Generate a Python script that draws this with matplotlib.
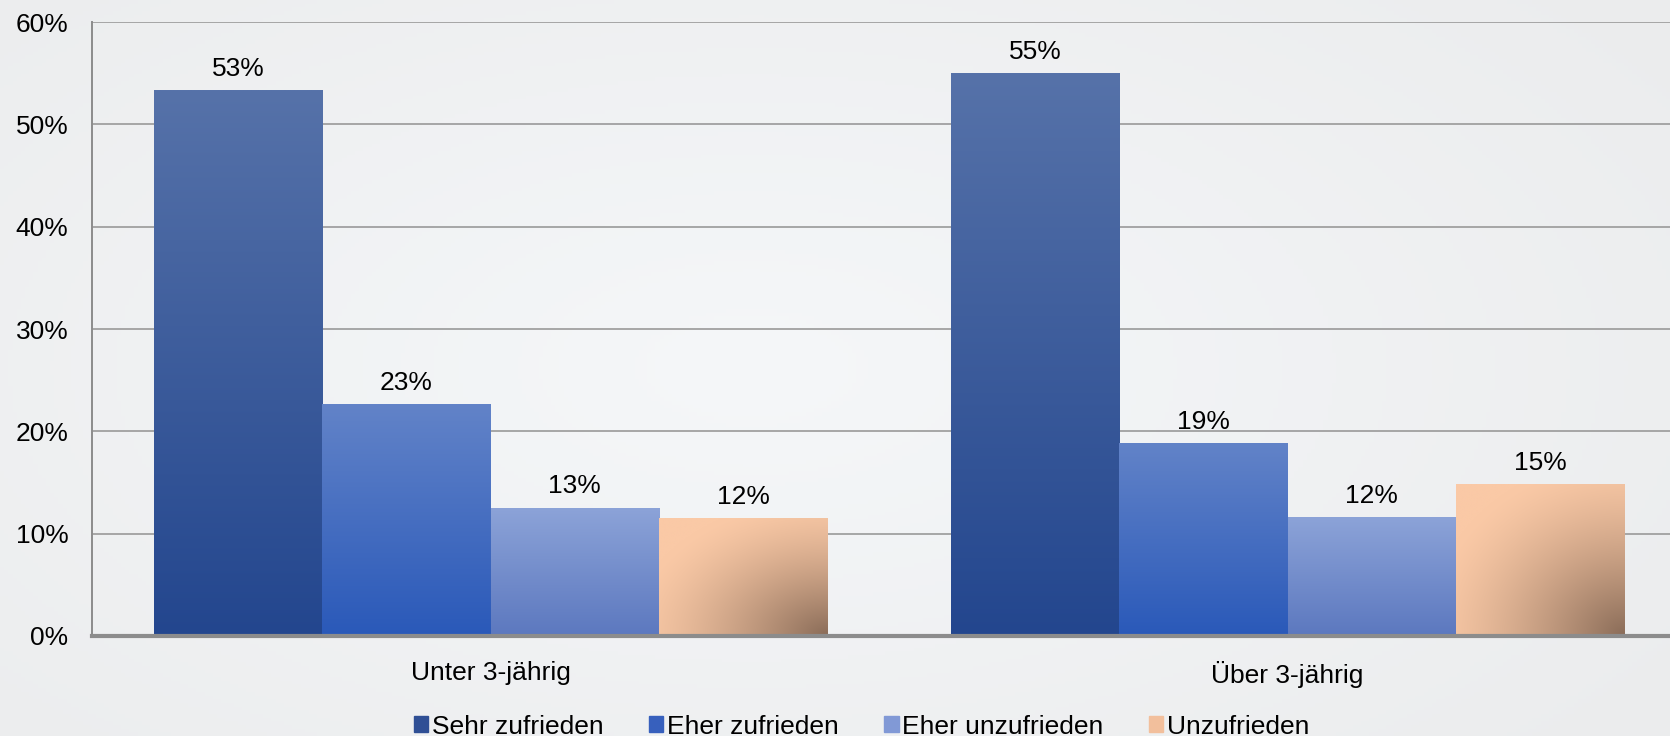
import numpy as np
import matplotlib.pyplot as plt
from matplotlib.colors import to_rgb

categories = ['Unter 3-jährig', 'Über 3-jährig']
series = ['Sehr zufrieden', 'Eher zufrieden', 'Eher unzufrieden', 'Unzufrieden']
sehr_zufrieden = [53.3, 55.0]
eher_zufrieden = [22.6, 18.8]
eher_unzufrieden = [12.5, 11.6]
unzufrieden = [11.5, 14.8]
value_labels = [['53%', '55%'], ['23%', '19%'], ['13%', '12%'], ['12%', '15%']]
yticks = [0, 10, 20, 30, 40, 50, 60]

# gradient colours (top, bottom) for the blue ones, (light, dark) for the peach one
grad = {
    'Sehr zufrieden': ('#5672a9', '#23468e'),
    'Eher zufrieden': ('#6283c8', '#2a59b9'),
    'Eher unzufrieden': ('#8ca3d8', '#5c78bf'),
    'Unzufrieden': ('#fac9a6', '#8a6c58'),
}
legend_col = {
    'Sehr zufrieden': '#2f4f95',
    'Eher zufrieden': '#3760bd',
    'Eher unzufrieden': '#8199d6',
    'Unzufrieden': '#f2bf9c',
}

plt.rcParams['font.family'] = ['Liberation Sans', 'DejaVu Sans']
FS = 19


def bar_image(name, n=200):
    c1 = np.array(to_rgb(grad[name][0]))
    c2 = np.array(to_rgb(grad[name][1]))
    yy, xx = np.mgrid[0:1:n * 1j, 0:1:n * 1j]
    if name == 'Unzufrieden':
        # radial darkening toward the bottom-right corner
        d = np.sqrt((1 - xx) ** 2 + (1 - yy) ** 2) / np.sqrt(2)
        t = np.clip(1 - d * 1.2, 0, 1) ** 1.4
    else:
        t = yy
    return c1[None, None, :] * (1 - t[..., None]) + c2[None, None, :] * t[..., None]


fig = plt.figure(figsize=(16.7, 7.36), dpi=100)

# soft background, lighter in the middle
bg = fig.add_axes([0, 0, 1, 1], zorder=-10)
yy, xx = np.mgrid[0:1:200j, 0:1:400j]
r = np.clip(np.sqrt(((xx - 0.45) / 0.7) ** 2 + ((yy - 0.5) / 0.8) ** 2), 0, 1)
c_in = np.array(to_rgb('#f5f7f9'))
c_out = np.array(to_rgb('#ebeced'))
bg.imshow(c_in * (1 - r[..., None]) + c_out * r[..., None], aspect='auto', extent=(0, 1, 0, 1))
bg.axis('off')

ax = fig.add_axes([0.0551, 0.1359, 0.9545, 0.8341])
ax.set_facecolor('none')

values = [sehr_zufrieden, eher_zufrieden, eher_unzufrieden, unzufrieden]
x = np.arange(len(categories))
w = 0.2113
for i, (name, vals) in enumerate(zip(series, values)):
    bars = ax.bar(x + (i - 1.5) * w, vals, w, color='none', zorder=3)
    img = bar_image(name)
    for b, v, lab in zip(bars, vals, value_labels[i]):
        x0 = b.get_x()
        ax.imshow(img, extent=(x0, x0 + b.get_width(), 0, b.get_height()),
                  origin='upper', aspect='auto', zorder=3, interpolation='bilinear')
        ax.annotate(lab, (x0 + b.get_width() / 2, v), xytext=(0, 7),
                    textcoords='offset points', ha='center', va='bottom',
                    fontsize=FS, color='black', zorder=4)

ax.set_xlim(-0.5, 1.5)
ax.set_ylim(0, 60)
ax.set_yticks(yticks)
ax.set_yticklabels([f'{t}%' for t in yticks], fontsize=FS)
ax.set_xticks(x)
ax.set_xticklabels(categories, fontsize=FS)
ax.tick_params(axis='x', length=0, pad=18)
ax.tick_params(axis='y', length=0, pad=17)
ax.grid(axis='y', color='#a0a0a0', linewidth=1.3, zorder=0)
ax.set_axisbelow(True)
for s in ['top', 'right']:
    ax.spines[s].set_visible(False)
ax.spines['left'].set_color('#8c8c8c')
ax.spines['left'].set_linewidth(1.4)
ax.spines['bottom'].set_color('#8c8c8c')
ax.spines['bottom'].set_linewidth(3)
ax.spines['bottom'].set_zorder(5)

handles = [plt.Rectangle((0, 0), 1, 1, color=legend_col[n]) for n in series]
fig.legend(handles, series, loc='lower center', bbox_to_anchor=(0.516, -0.036),
           ncol=4, frameon=False, fontsize=FS, handlelength=0.55, handleheight=0.55,
           handletextpad=0.15, columnspacing=1.7)

fig.savefig('out.png', dpi=100)
